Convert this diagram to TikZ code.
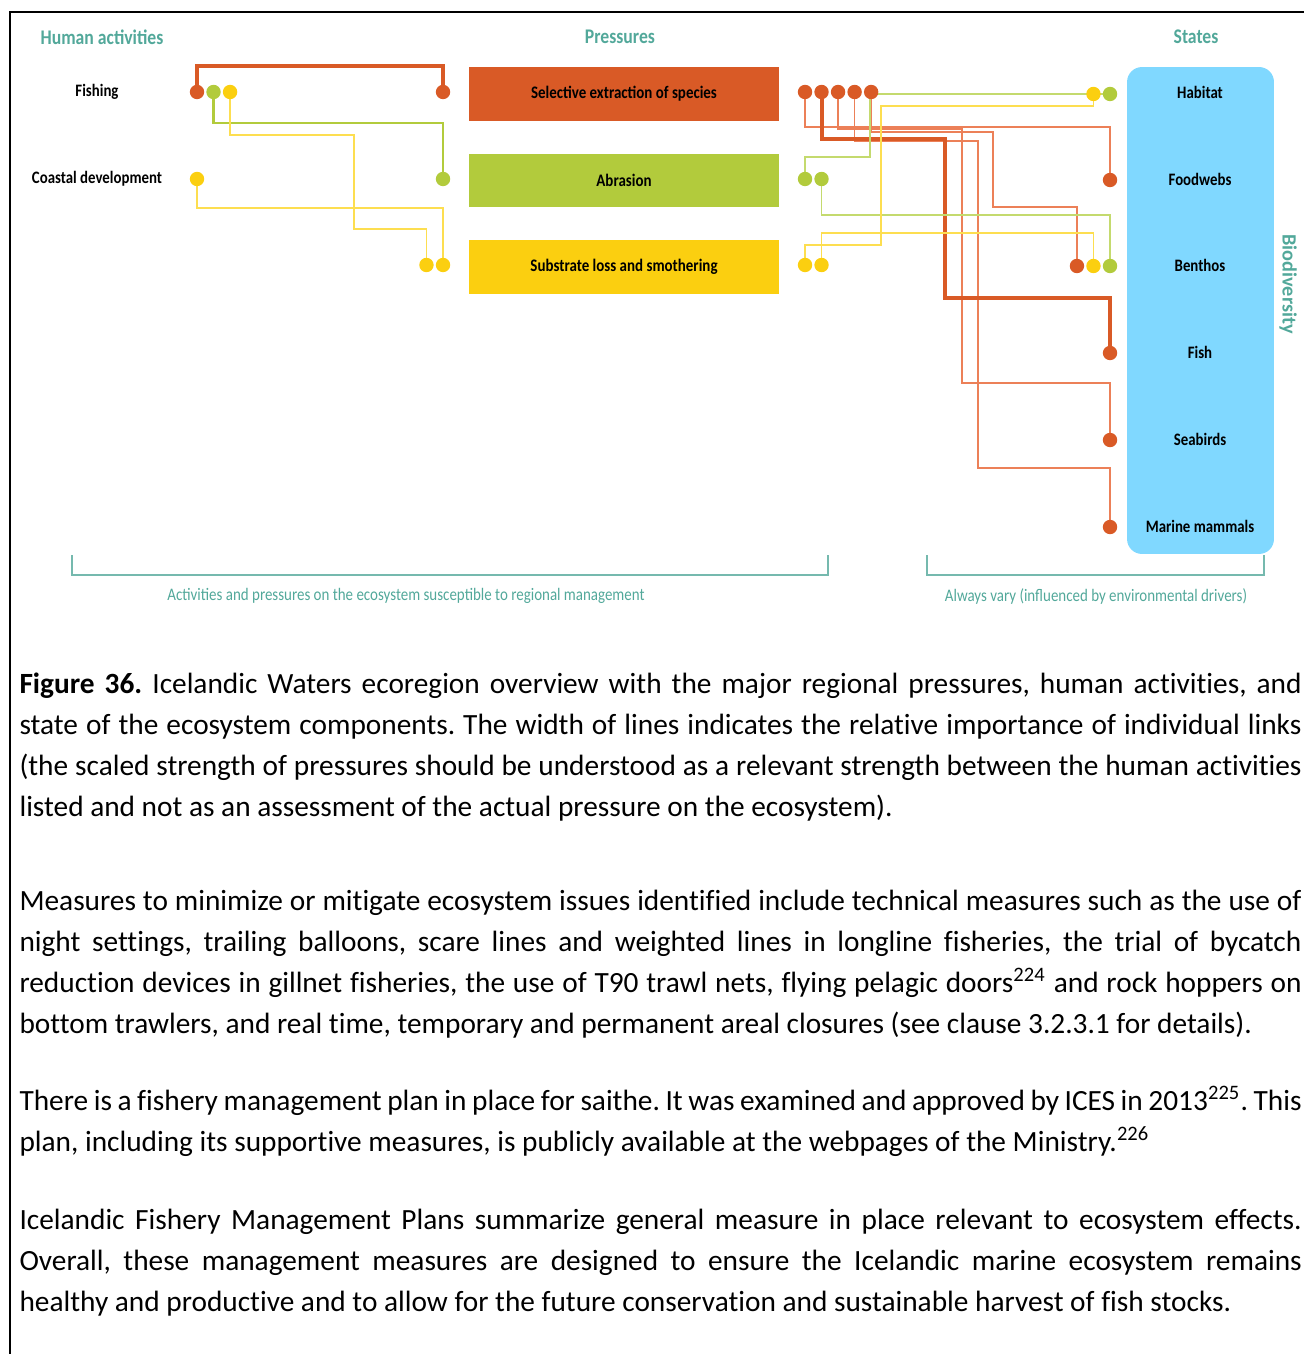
\documentclass[tikz,border=0pt]{standalone}
\usepackage{fontspec}
\setmainfont{Carlito}[Ligatures=NoCommon]
\newfontfamily\dgmfont[FakeStretch=0.85]{Carlito}
\newfontfamily\dgmwide{Carlito}
\usepackage{tikz}
\usetikzlibrary{positioning,backgrounds}
\definecolor{exOrange}{RGB}{217,90,38}
\definecolor{exOrangeLt}{RGB}{236,128,88}
\definecolor{exGreen}{RGB}{178,203,60}
\definecolor{exGreenLt}{RGB}{196,218,110}
\definecolor{exYellow}{RGB}{251,207,16}
\definecolor{exYellowLt}{RGB}{253,222,80}
\definecolor{stateBlue}{RGB}{128,216,255}
\definecolor{hdTeal}{RGB}{82,168,154}
\tolerance=10000
\hyphenpenalty=10000
\frenchspacing

\begin{document}
\begin{tikzpicture}[x=0.375pt,y=-0.375pt,
  node distance=0.4pt,
  head/.style={font=\dgmfont\bfseries\fontsize{7.8pt}{9pt}\selectfont,text=hdTeal,inner sep=0pt},
  act/.style={font=\dgmfont\bfseries\fontsize{6.55pt}{8pt}\selectfont,inner sep=0pt},
  pbox/.style={minimum width=116.25pt,minimum height=20.2pt,inner sep=0pt,font=\dgmfont\bfseries\fontsize{6.6pt}{8pt}\selectfont},
  state/.style={font=\dgmfont\bfseries\fontsize{6.55pt}{8pt}\selectfont,inner sep=0pt},
  dot/.style={circle,inner sep=0pt,minimum size=5.4pt},
  heavy/.style={line width=1.5pt,exOrange},
  link/.style={line width=0.6pt},
  note/.style={font=\dgmfont\fontsize{6.6pt}{8pt}\selectfont,text=hdTeal,inner sep=0pt},
  bracket/.style={hdTeal!80,line width=0.5pt},
  body/.style={anchor=base west,text width=480.75pt,align=justify,inner sep=0pt,font=\fontsize{11pt}{15.375pt}\selectfont}]
  \useasboundingbox (0,0) rectangle (1304,1354);
  \draw[line width=0.75pt] (10,1354) -- (10,12) -- (1304,12);

  \node[head] (hAct) at (102,37) {Human activities};
  \node[head] (hPre) at (620,37) {Pressures};
  \node[head] (hSta) at (1196,37) {States};

  \node[act] (fish) at (97,92) {Fishing};
  \node[act] (coast) at (97,179) {Coastal development};

  \node[pbox,fill=exOrange] (sel) at (624,94) {Selective extraction of species};
  \node[pbox,fill=exGreen] (abr) at (624,180.5) {Abrasion};
  \node[pbox,fill=exYellow] (sub) at (624,267) {Substrate loss and smothering};

  \node[fill=stateBlue,rounded corners=5.6pt,minimum width=55.1pt,minimum height=182.6pt] (stBox) at (1200.5,310.5) {};
  \node[state] (hab) at (1200,92) {Habitat};
  \node[state] (food) at (1200,179) {Foodwebs};
  \node[state] (ben) at (1200,265) {Benthos};
  \node[state] (fsh) at (1200,352) {Fish};
  \node[state] (sea) at (1200,439) {Seabirds};
  \node[state] (mam) at (1200,526) {Marine mammals};
  \node[head,font=\dgmwide\bfseries\fontsize{7.6pt}{9pt}\selectfont,rotate=-90] (bio) at (1288,284) {Biodiversity};

  % activity side
  \node[dot,fill=exOrange] (af1) at (197,92) {};
  \node[dot,fill=exGreen,right=of af1] (af2) {};
  \node[dot,fill=exYellow,right=of af2] (af3) {};
  \node[dot,fill=exYellow] (ac1) at (197,179) {};
  \node[dot,fill=exOrange] (pi1) at (443,92) {};
  \node[dot,fill=exGreen] (pi2) at (443,179) {};
  \node[dot,fill=exYellow] (pi3b) at (443,265) {};
  \node[dot,fill=exYellow,left=of pi3b] (pi3a) {};

  % pressure side
  \node[dot,fill=exOrange] (po1) at (805,92) {};
  \node[dot,fill=exOrange,right=of po1] (po2) {};
  \node[dot,fill=exOrange,right=of po2] (po3) {};
  \node[dot,fill=exOrange,right=of po3] (po4) {};
  \node[dot,fill=exOrange,right=of po4] (po5) {};
  \node[dot,fill=exGreen] (pa1) at (805,179) {};
  \node[dot,fill=exGreen,right=of pa1] (pa2) {};
  \node[dot,fill=exYellow] (ps1) at (805,265) {};
  \node[dot,fill=exYellow,right=of ps1] (ps2) {};

  % state side
  \node[dot,fill=exGreen] (sh2) at (1110,94) {};
  \node[dot,fill=exYellow,left=of sh2] (sh1) {};
  \node[dot,fill=exOrange] (sf) at (1110,180) {};
  \node[dot,fill=exGreen] (sb3) at (1110,266) {};
  \node[dot,fill=exYellow,left=of sb3] (sb2) {};
  \node[dot,fill=exOrange,left=of sb2] (sb1) {};
  \node[dot,fill=exOrange] (sfi) at (1110,353) {};
  \node[dot,fill=exOrange] (sse) at (1110,440) {};
  \node[dot,fill=exOrange] (sma) at (1110,527) {};

  \begin{scope}[on background layer]
    \draw[heavy] (af1.center) -- ++(0,-26) -| (pi1.center);
    \draw[line width=0.95pt,exGreen] (af2.center) -- ++(0,31) -| (pi2.center);
    \draw[link,exYellowLt] (af3.center) |- (354,135) -- (354,229) -| (pi3a.center);
    \draw[link,exYellowLt] (ac1.center) -- ++(0,29) -| (pi3b.center);

    \draw[link,exOrangeLt] (po1.center) -- ++(0,35) -| (sf.center);
    \draw[link,exOrangeLt] (po3.center) -- ++(0,37) -| (962,383) -| (sse.center);
    \draw[link,exOrangeLt] (po4.center) -- ++(0,49) -| (978,468) -| (sma.center);
    \draw[link,exOrangeLt] (po5.center) -- ++(0,40) -| (993,207) -| (sb1.center);
    \draw[heavy] (po2.center) -- ++(0,47) -| (945,298) -| (sfi.center);
    \draw[link,exGreenLt] (pa1.center) -- ++(0,-22) -| (870,94) -- (sh2.center);
    \draw[link,exGreenLt] (pa2.center) -- ++(0,36) -| (sb3.center);
    \draw[link,exYellowLt] (ps1.center) -- ++(0,-20) -| (881,106) -| (sh1.center);
    \draw[link,exYellowLt] (ps2.center) -- ++(0,-32) -| (sb2.center);
  \end{scope}

  \draw[bracket] (72,555) -- (72,575) -- (828,575) -- (828,555);
  \draw[bracket] (927,555) -- (927,575) -- (1264,575) -- (1264,555);
  \node[note] (regL) at (406,596) {Activities and pressures on the ecosystem susceptible to regional management};
  \node[note] (envR) at (1096,596) {Always vary (influenced by environmental drivers)};

  \node[body] (cap) at (19,693) {\textbf{Figure 36.} Icelandic Waters ecoregion overview with the major regional pressures, human activities, and\linebreak
    state of the ecosystem components. The width of lines indicates the relative importance of individual links\linebreak
    (the scaled strength of pressures should be understood as a relevant strength between the human activities\linebreak
    listed and not as an assessment of the actual pressure on the ecosystem).};
  \node[body] (par1) at (19,910) {Measures to minimize or mitigate ecosystem issues identified include technical measures such as the use of\linebreak
    night settings, trailing balloons, scare lines and weighted lines in longline fisheries, the trial of bycatch\linebreak
    reduction devices in gillnet fisheries, the use of T90 trawl nets, flying pelagic doors\textsuperscript{224} and rock hoppers on\linebreak
    bottom trawlers, and real time, temporary and permanent areal closures (see clause 3.2.3.1 for details).};
  \node[body] (par2) at (19,1110) {There is a fishery management plan in place for saithe. It was examined and approved by ICES in 2013\textsuperscript{225}. This\linebreak
    plan, including its supportive measures, is publicly available at the webpages of the Ministry.\textsuperscript{226}};
  \node[body] (par3) at (19,1229) {Icelandic Fishery Management Plans summarize general measure in place relevant to ecosystem effects.\linebreak
    Overall, these management measures are designed to ensure the Icelandic marine ecosystem remains\linebreak
    healthy and productive and to allow for the future conservation and sustainable harvest of fish stocks.};
\end{tikzpicture}
\end{document}
